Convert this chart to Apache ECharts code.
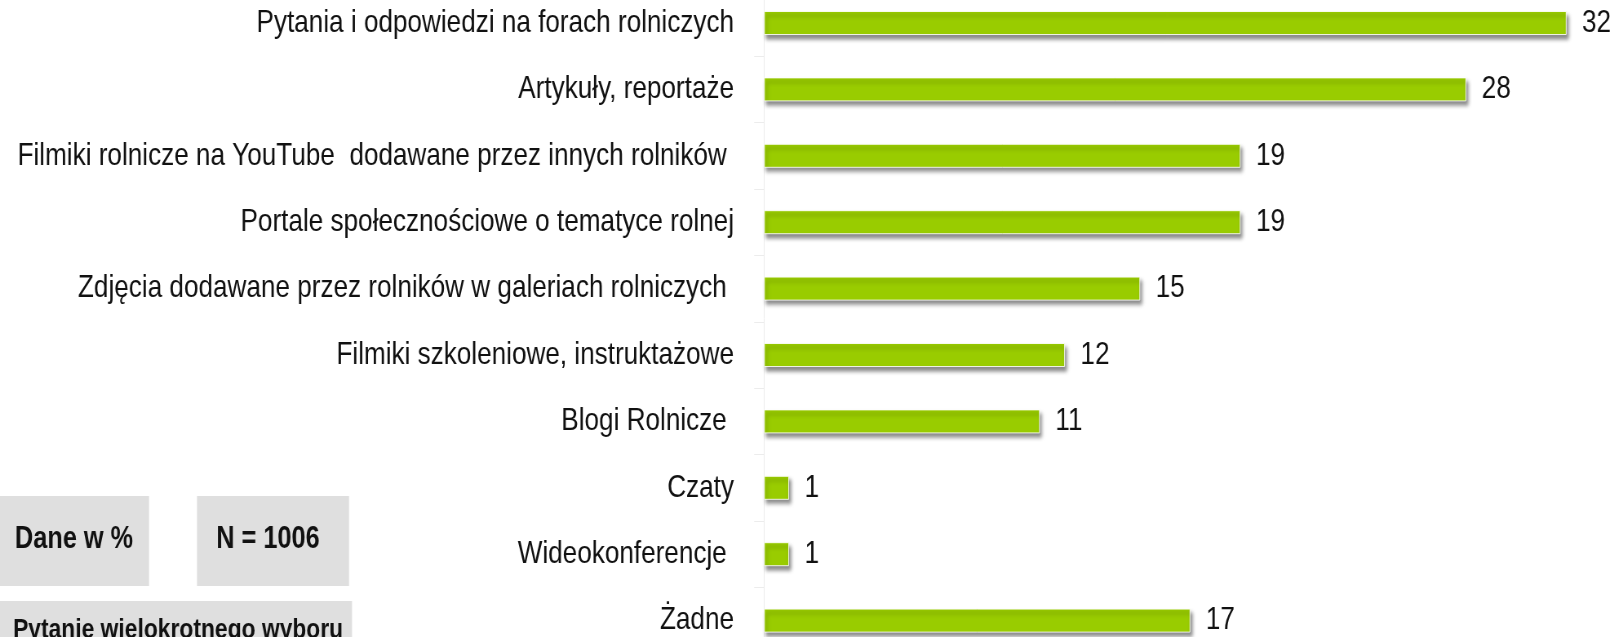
<!DOCTYPE html>
<html><head><meta charset="utf-8">
<script src="https://cdn.jsdelivr.net/npm/echarts@6/dist/echarts.min.js"></script>
<style>
html,body{margin:0;padding:0;background:#fff;overflow:hidden;width:1620px;height:637px}
#c{width:1985px;height:637px;transform:scaleX(0.816);transform-origin:0 0}
</style>
</head><body><div id="c"></div>
<script>
const categories = [
  'Pytania i odpowiedzi na forach rolniczych',
  'Artykuły, reportaże',
  'Filmiki rolnicze na YouTube  dodawane przez innych rolników ',
  'Portale społecznościowe o tematyce rolnej',
  'Zdjęcia dodawane przez rolników w galeriach rolniczych ',
  'Filmiki szkoleniowe, instruktażowe',
  'Blogi Rolnicze ',
  'Czaty',
  'Wideokonferencje ',
  'Żadne'
];
const values = [32, 28, 19, 19, 15, 12, 11, 1, 1, 17];
const noteDane = 'Dane w %';
const noteN = 'N = 1006';
const noteMulti = 'Pytanie wielokrotnego wyboru';

// the reference text is horizontally condensed; the chart is drawn wider and squeezed by CSS
const S = 0.816;
const FF = '"Liberation Sans", Arial, sans-serif';

const chart = echarts.init(document.getElementById('c'), null, {renderer:'canvas', width:1985, height:637});
chart.setOption({
  animation:false,
  backgroundColor:'#fff',
  grid:{left:764/S, top:-10.2, width:1045, height:664, containLabel:false, outerBoundsMode:'none'},
  xAxis:{type:'value', min:0, max:34, show:false},
  yAxis:{type:'category', data:categories, inverse:true,
    axisLine:{show:true, lineStyle:{color:'#ececec', width:1}},
    axisTick:{show:true, length:12, lineStyle:{color:'#ececec'}},
    axisLabel:{margin:30/S, fontSize:32, fontFamily:FF, color:'#111'},
    splitLine:{show:false}
  },
  series:[{type:'bar', data:values, barWidth:24,
    itemStyle:{color:'#99cc00', borderColor:'rgba(255,255,255,0.85)', borderWidth:1,
      shadowColor:'rgba(0,0,0,0.45)', shadowBlur:4, shadowOffsetX:2.5, shadowOffsetY:4},
    label:{show:true, position:'right', distance:19, fontSize:32, fontFamily:FF, color:'#111'}
  }],
  graphic:[
    {type:'rect', shape:{x:0,y:496,width:149/S,height:90}, style:{fill:'#dfdfdf'}},
    {type:'rect', shape:{x:197/S,y:496,width:152/S,height:90}, style:{fill:'#dfdfdf'}},
    {type:'rect', shape:{x:0,y:601,width:352/S,height:50}, style:{fill:'#dfdfdf'}},
    {type:'text', x:74/S, y:539, style:{text:noteDane, font:'bold 31px '+FF, fill:'#111', align:'center', verticalAlign:'middle'}},
    {type:'text', x:268/S, y:539, style:{text:noteN, font:'bold 31px '+FF, fill:'#111', align:'center', verticalAlign:'middle'}},
    {type:'text', x:13/S, y:630, style:{text:noteMulti, font:'bold 28px '+FF, fill:'#111', align:'left', verticalAlign:'middle'}}
  ]
});
</script></body></html>
